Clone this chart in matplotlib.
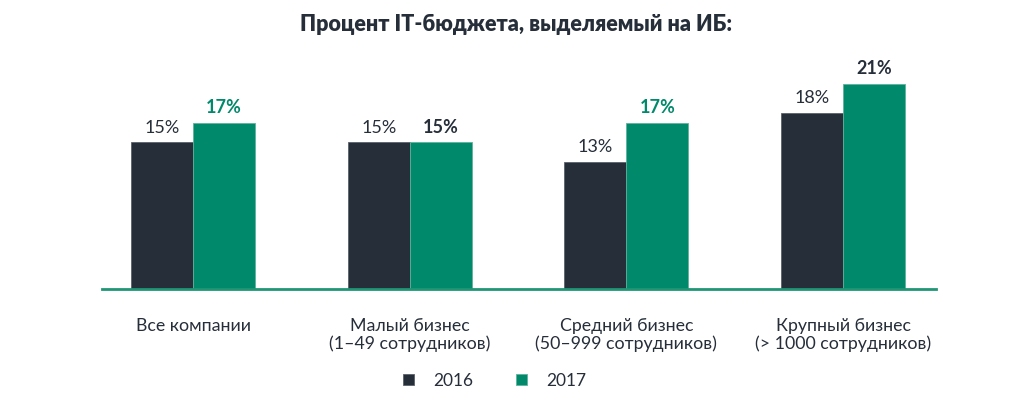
import matplotlib
matplotlib.use("Agg")
import matplotlib.pyplot as plt
import numpy as np

plt.rcParams['font.family'] = ['Lato', 'DejaVu Sans']

# данные
categories = ["Все компании", "Малый бизнес\n(1–49 сотрудников)",
              "Средний бизнес\n(50–999 сотрудников)", "Крупный бизнес\n(> 1000 сотрудников)"]
series_names = ["2016", "2017"]
values_2016 = [15, 15, 13, 18]
values_2017 = [17, 15, 17, 21]
title = "Процент IT-бюджета, выделяемый на ИБ:"

DARK = "#262e3a"
GREEN = "#00896a"
# цвет подписей 2017 года (как на картинке)
label_colors_2017 = [GREEN, DARK, GREEN, DARK]

fig = plt.figure(figsize=(10.24, 3.98), dpi=100)
ax = fig.add_axes([0.0996, 0.2746, 0.8145, 0.5756])

x = np.arange(len(categories))
w = 0.286

b1 = ax.bar(x - w / 2, values_2016, w, color=DARK, edgecolor="#5a616b", linewidth=0.6, label=series_names[0])
b2 = ax.bar(x + w / 2, values_2017, w, color=GREEN, edgecolor="#5fb39b", linewidth=0.6, label=series_names[1])

for rect, v in zip(b1, values_2016):
    ax.annotate(f"{v}%", (rect.get_x() + rect.get_width() / 2, v), xytext=(0, 5),
                textcoords="offset points", ha="center", va="bottom", fontsize=13, color=DARK)
for rect, v, c in zip(b2, values_2017, label_colors_2017):
    ax.annotate(f"{v}%", (rect.get_x() + rect.get_width() / 2, v), xytext=(0, 5),
                textcoords="offset points", ha="center", va="bottom", fontsize=13,
                color=c, fontweight="bold")

ax.set_xlim(-0.42, 3.429)
ax.set_ylim(0, 23.5)
ax.set_xticks(x)
ax.set_xticklabels(categories, fontsize=12.8, color=DARK, linespacing=1.1)
ax.tick_params(axis="x", length=0, pad=21)
ax.set_yticks([])
for s in ["top", "right", "left"]:
    ax.spines[s].set_visible(False)
ax.spines["bottom"].set_color("#1f9675")
ax.spines["bottom"].set_linewidth(2)

fig.text(0.504, 0.938, title, ha="center", va="center", fontsize=15.5, fontweight="heavy", color=DARK)

fig.legend(loc="center", bbox_to_anchor=(0.483, 0.043), ncol=2, frameon=False,
           fontsize=12.5, handlelength=0.6, handleheight=0.6, columnspacing=2.5,
           handletextpad=1.1, labelcolor=DARK)

fig.savefig("out.png", dpi=100)
